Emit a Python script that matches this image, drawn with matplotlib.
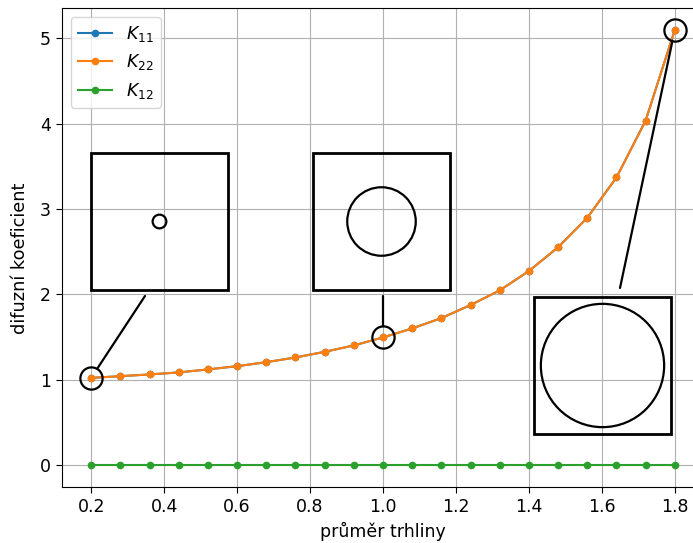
import numpy as np
import matplotlib
matplotlib.use("Agg")
import matplotlib.pyplot as plt
from matplotlib.patches import Rectangle, Circle

# crack diameter and diffusion coefficients
prumer = [0.20, 0.28, 0.36, 0.44, 0.52, 0.60, 0.68, 0.76, 0.84, 0.92, 1.00,
          1.08, 1.16, 1.24, 1.32, 1.40, 1.48, 1.56, 1.64, 1.72, 1.80]
K11 = [1.023, 1.043, 1.063, 1.087, 1.122, 1.160, 1.207, 1.262, 1.328, 1.403,
       1.497, 1.602, 1.723, 1.876, 2.048, 2.274, 2.553, 2.898, 3.370, 4.036, 5.100]
K22 = list(K11)
K12 = [0.0] * len(prumer)

# highlighted geometries (crack diameter shown in a unit cell of side 2)
detail_d = [0.2, 1.0, 1.8]

plt.rcParams["font.size"] = 12.5
plt.rcParams["xtick.major.size"] = 4.5
plt.rcParams["ytick.major.size"] = 4.5

W, H = 693, 543
fig = plt.figure(figsize=(W / 100, H / 100), dpi=100)


def px_rect(x0, y0, x1, y1):
    """Convert pixel box (top-left origin) to figure fractions."""
    return [x0 / W, 1 - y1 / H, (x1 - x0) / W, (y1 - y0) / H]


ax = fig.add_axes(px_rect(62, 8, 704, 487))
ax.plot(prumer, K11, "o-", ms=4.5, label="$K_{11}$")
ax.plot(prumer, K22, "o-", ms=4.5, label="$K_{22}$")
ax.plot(prumer, K12, "o-", ms=4.5, label="$K_{12}$")
ax.grid(True)
ax.set_xlabel("průměr trhliny")
ax.set_ylabel("difuzní koeficient", fontsize=12.8)
ax.yaxis.set_label_coords(-0.052, 0.477)
ax.set_xticks(np.arange(0.2, 1.81, 0.2))
ax.legend(loc="upper left")

# open circles around the highlighted points
idx = [prumer.index(d) for d in detail_d]
ax.plot([prumer[i] for i in idx], [K22[i] for i in idx], "o", ms=16,
        mfc="none", mec="black", mew=1.6, zorder=5)

# unit-cell sketches: (pixel box, line start in pixels)
boxes = [(91, 153, 228, 290), (313, 153, 450, 290), (534, 297, 671, 434)]
starts = [(145, 296), (383, 296), (620, 288)]

for d, box, st, i in zip(detail_d, boxes, starts, idx):
    ia = fig.add_axes(px_rect(*box))
    ia.set_xlim(-1, 1)
    ia.set_ylim(-1, 1)
    ia.axis("off")
    ia.patch.set_visible(False)
    ia.add_patch(Rectangle((-1, -1), 2, 2, fill=False, lw=2.0,
                           ec="black", clip_on=False))
    ia.add_patch(Circle((0, 0), d / 2, fill=False, lw=1.6, ec="black",
                        clip_on=False))
    ax.annotate("", xy=(prumer[i], K22[i]),
                xytext=(st[0] / W, 1 - st[1] / H), textcoords="figure fraction",
                arrowprops=dict(arrowstyle="-", color="black", lw=1.6,
                                shrinkA=0, shrinkB=8.0))

fig.savefig("out.png", dpi=100)
